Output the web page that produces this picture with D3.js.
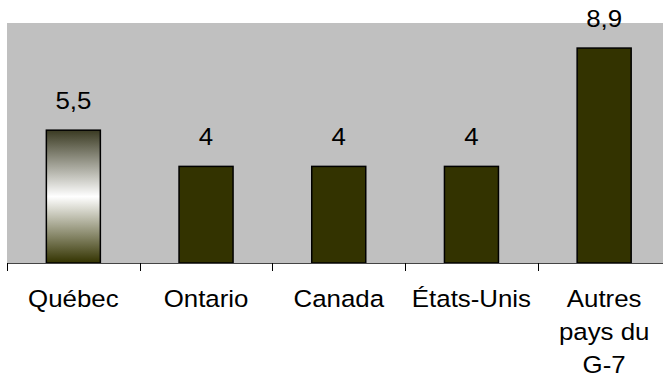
<!DOCTYPE html>
<html>
<head>
<meta charset="utf-8">
<script src="https://cdn.jsdelivr.net/npm/d3@7"></script>
<style>
  html, body { margin: 0; padding: 0; background: #ffffff; }
  svg { display: block; }
  text { font-family: "Liberation Sans", Arial, sans-serif; fill: #000; }
</style>
</head>
<body>
<svg id="chart" width="663" height="377"></svg>
<script>
const categories = ["Québec", "Ontario", "Canada", "États-Unis", "Autres pays du G-7"];
const values = [5.5, 4, 4, 4, 8.9];
const valueLabels = ["5,5", "4", "4", "4", "8,9"];
const yDomain = [0, 10];

const W = 663, H = 377;
const svg = d3.select("#chart");

const plot = { left: 7, right: 670.5, top: 23, bottom: 263 };
const FONT = 23.5, STRETCH = 1.1;

const x = d3.scaleBand()
  .domain(categories)
  .range([plot.left, plot.right])
  .paddingInner(0.593)
  .paddingOuter(0.2965);

const y = d3.scaleLinear()
  .domain(yDomain)
  .range([plot.bottom, 21.5]);

// gradient for Québec
const defs = svg.append("defs");
const grad = defs.append("linearGradient")
  .attr("id", "qcGrad").attr("x1", 0).attr("y1", 0).attr("x2", 0).attr("y2", 1);
grad.append("stop").attr("offset", "0%").attr("stop-color", "#3a3a22");
grad.append("stop").attr("offset", "50%").attr("stop-color", "#ffffff");
grad.append("stop").attr("offset", "100%").attr("stop-color", "#333300");

// plot background
svg.append("rect")
  .attr("x", plot.left).attr("y", plot.top)
  .attr("width", W - plot.left).attr("height", plot.bottom - plot.top)
  .attr("fill", "#c0c0c0");

// bars
svg.append("g").selectAll("rect")
  .data(categories)
  .join("rect")
  .attr("x", d => x(d))
  .attr("y", (d, i) => y(values[i]))
  .attr("width", x.bandwidth())
  .attr("height", (d, i) => y(0) - y(values[i]))
  .attr("fill", (d, i) => i === 0 ? "url(#qcGrad)" : "#333300")
  .attr("stroke", "#000")
  .attr("stroke-width", 1.5);

// value labels
svg.append("g").selectAll("text")
  .data(categories)
  .join("text")
  .attr("transform", (d, i) => `translate(${x(d) + x.bandwidth() / 2},${y(values[i]) - 21}) scale(${STRETCH},1)`)
  .attr("text-anchor", "middle")
  .style("font-size", FONT + "px")
  .text((d, i) => valueLabels[i]);

// x axis (labels)
const axis = d3.axisBottom(x).tickSize(0).tickPadding(0);
const gx = svg.append("g")
  .attr("transform", `translate(0,${plot.bottom})`)
  .call(axis);
gx.select(".domain").remove();
gx.selectAll(".tick text")
  .style("font-size", FONT + "px")
  .style("font-family", "Liberation Sans, Arial, sans-serif")
  .attr("fill", "#000")
  .attr("dy", null)
  .attr("y", 44)
  .attr("transform", `scale(${STRETCH},1)`)
  .each(function(d) {
    const t = d3.select(this);
    const words = d.split(" ");
    t.text(null);
    let line = [];
    let tspan = t.append("tspan").attr("x", 0).attr("dy", 0);
    for (const w of words) {
      line.push(w);
      tspan.text(line.join(" "));
      if (tspan.node().getComputedTextLength() * STRETCH > 118 && line.length > 1) {
        line.pop();
        tspan.text(line.join(" "));
        line = [w];
        tspan = t.append("tspan").attr("x", 0).attr("dy", 32.8).text(w);
      }
    }
  });

// axis line and boundary ticks
svg.append("line")
  .attr("x1", plot.left).attr("x2", W)
  .attr("y1", plot.bottom + 0.5).attr("y2", plot.bottom + 0.5)
  .attr("stroke", "#444").attr("stroke-width", 1);

const boundaries = d3.range(categories.length + 1).map(i => plot.left + i * x.step());
svg.append("g").selectAll("line")
  .data(boundaries)
  .join("line")
  .attr("x1", d => Math.round(d) + 0.5).attr("x2", d => Math.round(d) + 0.5)
  .attr("y1", plot.bottom).attr("y2", plot.bottom + 8)
  .attr("stroke", "#000").attr("stroke-width", 1);
</script>
</body>
</html>
